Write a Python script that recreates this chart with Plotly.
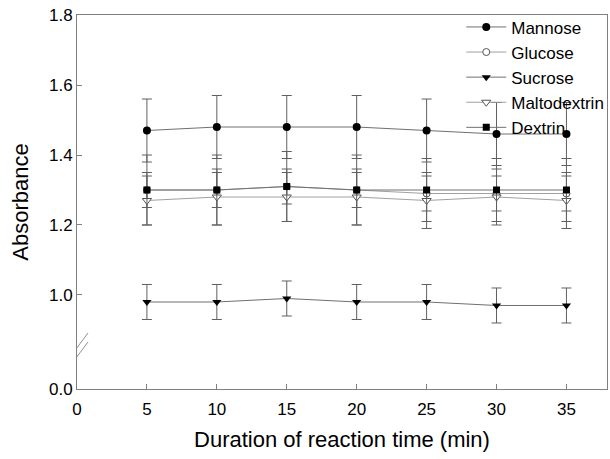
import plotly.graph_objects as go

# Données
time_min = [5, 10, 15, 20, 25, 30, 35]

mannose = [1.47, 1.48, 1.48, 1.48, 1.47, 1.46, 1.46]
mannose_err = [0.09, 0.09, 0.09, 0.09, 0.09, 0.09, 0.09]

glucose = [1.30, 1.30, 1.31, 1.30, 1.29, 1.29, 1.29]
glucose_err = [0.05, 0.05, 0.05, 0.05, 0.05, 0.05, 0.05]

sucrose = [0.98, 0.98, 0.99, 0.98, 0.98, 0.97, 0.97]
sucrose_err = [0.05, 0.05, 0.05, 0.05, 0.05, 0.05, 0.05]

maltodextrin = [1.27, 1.28, 1.28, 1.28, 1.27, 1.28, 1.27]
maltodextrin_err = [0.07, 0.08, 0.07, 0.08, 0.08, 0.08, 0.08]

dextrin = [1.30, 1.30, 1.31, 1.30, 1.30, 1.30, 1.30]
dextrin_err = [0.10, 0.10, 0.10, 0.10, 0.09, 0.09, 0.09]

x_ticks = [0, 5, 10, 15, 20, 25, 30, 35]
y_ticks = [1.0, 1.2, 1.4, 1.6, 1.8]
y_zero_pos = 0.7314   # position de "0.0" sous la coupure de l'axe
y_break_pos = 0.84

FONT = "Liberation Sans, Arial, sans-serif"

series = [
    ("Mannose", mannose, mannose_err, "circle", "black", "#707070", 8),
    ("Glucose", glucose, glucose_err, "circle-open", "white", "#a0a0a0", 7),
    ("Sucrose", sucrose, sucrose_err, "triangle-down", "black", "#707070", 8),
    ("Maltodextrin", maltodextrin, maltodextrin_err, "triangle-down-open", "white", "#a0a0a0", 8),
    ("Dextrin", dextrin, dextrin_err, "square", "black", "#707070", 7),
]

fig = go.Figure()

for name, vals, err, sym, mcol, lcol, size in series:
    marker_line = dict(width=0)
    if "open" in sym:
        sym = sym.replace("-open", "")
        marker_line = dict(color="#555555", width=1)
    fig.add_trace(go.Scatter(
        x=time_min,
        y=vals,
        mode="lines+markers",
        name=name,
        line=dict(color=lcol, width=1),
        marker=dict(symbol=sym, size=size, color=mcol, line=marker_line),
        error_y=dict(type="data", array=err, visible=True,
                     color="#606060", thickness=1, width=5),
    ))

# Marques de coupure de l'axe Y
for dy in (-5, 4):
    fig.add_shape(
        type="line", xref="x", yref="y",
        xsizemode="pixel", ysizemode="pixel",
        xanchor=0, yanchor=y_break_pos,
        x0=-10, x1=11, y0=-14 + dy, y1=14 + dy,
        line=dict(color="#909090", width=1),
    )

fig.update_xaxes(
    range=[0, 37.9],
    tickvals=x_ticks,
    ticks="inside", ticklen=5, tickcolor="#808080",
    showline=True, linecolor="#808080", linewidth=1, mirror=True,
    showgrid=False, zeroline=False, automargin=False,
    ticklabelstandoff=5,
    tickfont=dict(family=FONT, size=17, color="black"),
    title=dict(text="Duration of reaction time (min)",
               font=dict(family=FONT, size=22, color="black"), standoff=13),
)

fig.update_yaxes(
    range=[y_zero_pos, 1.8],
    tickvals=[y_zero_pos] + y_ticks,
    ticktext=["0.0"] + [f"{v:.1f}" for v in y_ticks],
    ticks="inside", ticklen=5, tickcolor="#808080",
    showline=True, linecolor="#808080", linewidth=1, mirror=True,
    showgrid=False, zeroline=False, automargin=False,
    tickfont=dict(family=FONT, size=17, color="black"),
    title=dict(text="Absorbance",
               font=dict(family=FONT, size=22, color="black"), standoff=14),
)

fig.update_layout(
    width=610, height=459,
    plot_bgcolor="white", paper_bgcolor="white",
    margin=dict(l=77, r=1, t=15, b=70),
    legend=dict(
        x=0.725, y=1.015, xanchor="left", yanchor="top",
        bgcolor="rgba(0,0,0,0)",
        font=dict(family=FONT, size=17, color="black"),
        itemwidth=40, tracegroupgap=0,
    ),
    showlegend=True,
)

fig.write_html("out.html", config={"displayModeBar": False},
               post_script="document.body.style.margin='0px';")
